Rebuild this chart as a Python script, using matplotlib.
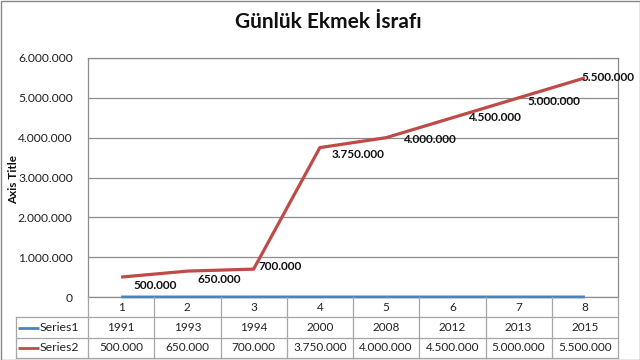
import matplotlib
matplotlib.use('Agg')
import matplotlib.pyplot as plt
from matplotlib.patches import Rectangle

categories = ['1', '2', '3', '4', '5', '6', '7', '8']
series_names = ['Series1', 'Series2']
series1 = [1991, 1993, 1994, 2000, 2008, 2012, 2013, 2015]
series2 = [500000, 650000, 700000, 3750000, 4000000, 4500000, 5000000, 5500000]
yticks = [0, 1000000, 2000000, 3000000, 4000000, 5000000, 6000000]
title = 'Günlük Ekmek İsrafı'
ylabel = 'Axis Title'

# label offsets (pixels) for Series2 data labels
label_offsets = [(12, -8), (10, -8), (5, 3), (12, -7), (17, -2), (16, 0), (9, -4), (-3, 0)]

def fmt(v):
    return f'{v:,.0f}'.replace(',', '.')

plt.rcParams['font.family'] = ['Lato', 'DejaVu Sans']
BLUE = '#4F81BD'
RED = '#BE4B48'
GRID = '#8C8C8C'
TABLE = '#A6A6A6'

W, H = 640, 360
fig = plt.figure(figsize=(6.4, 3.6), dpi=100)
fig.patch.set_facecolor('white')

# pixel geometry
px_l, px_r = 88, 618
px_top, px_zero, px_bot = 58, 297, 358

ax = fig.add_axes([px_l / W, 1 - px_zero / H, (px_r - px_l) / W, (px_zero - px_top) / H])
xs = list(range(1, len(categories) + 1))
ax.set_xlim(0.5, len(categories) + 0.5)
ax.set_ylim(0, 6000000)
ax.set_yticks(yticks)
ax.set_yticklabels([fmt(v) for v in yticks], fontsize=8.7, color='#222222')
ax.tick_params(axis='y', length=0, pad=11)
ax.set_xticks([])
ax.grid(axis='y', color=GRID, lw=0.9)
ax.set_axisbelow(True)
for s in ax.spines.values():
    s.set_color(GRID)
    s.set_linewidth(0.9)

ax.plot(xs, series1, color=BLUE, lw=2.0, solid_capstyle='butt', zorder=3, clip_on=False)
ax.plot(xs, series2, color=RED, lw=2.3, solid_capstyle='butt', zorder=4)

for x, v, (dx, dy) in zip(xs, series2, label_offsets):
    ax.annotate(fmt(v), (x, v), xytext=(dx, dy), textcoords='offset pixels',
                ha='left', va='center', fontsize=8.5, fontweight='bold', color='#111111', zorder=5)

# data table
n = len(categories)
ax_t = fig.add_axes([px_l / W, 1 - px_bot / H, (px_r - px_l) / W, (px_bot - px_zero) / H])
ax_t.set_xlim(0.5, n + 0.5)
ax_t.set_ylim(3, 0)
ax_t.axis('off')
colw = (px_r - px_l) / n
def xd(px):
    return 0.5 + (px - px_l) / colw
x_left = xd(16)
lk = dict(color=TABLE, lw=0.9, clip_on=False)
for yy in [1, 2, 3]:
    ax_t.plot([x_left, n + 0.5], [yy, yy], **lk)
for i in range(n + 1):
    ax_t.plot([0.5 + i, 0.5 + i], [0, 3], **lk)
ax_t.plot([x_left, x_left], [1, 3], **lk)

for x, c in zip(xs, categories):
    ax_t.text(x, 0.5, c, ha='center', va='center', fontsize=8.5, color='#222222')
table_text = [[str(v) for v in series1], [fmt(v) for v in series2]]
for row, (name, vals, col) in enumerate(zip(series_names, table_text, [BLUE, RED])):
    yy = 1.5 + row
    for x, v in zip(xs, vals):
        ax_t.text(x, yy, v, ha='center', va='center', fontsize=8.5, color='#222222')
    ax_t.plot([xd(18), xd(39)], [yy, yy], color=col, lw=2.0, clip_on=False, solid_capstyle='butt')
    ax_t.text(xd(40), yy, name, ha='left', va='center', fontsize=8.8, color='#222222')

fig.text(328 / W, 1 - 22 / H, title, ha='center', va='center', fontsize=15, fontweight='bold', color='#111111')
fig.text(14 / W, 1 - 180 / H, ylabel, rotation=90, ha='center', va='center', fontsize=8.5, fontweight='bold', color='#111111')

fig.add_artist(Rectangle((0.5 / W, 0.5 / H), 1 - 1 / W, 1 - 1 / H, transform=fig.transFigure,
                         fill=False, edgecolor='#888888', lw=1))

fig.savefig('out.png', dpi=100)
